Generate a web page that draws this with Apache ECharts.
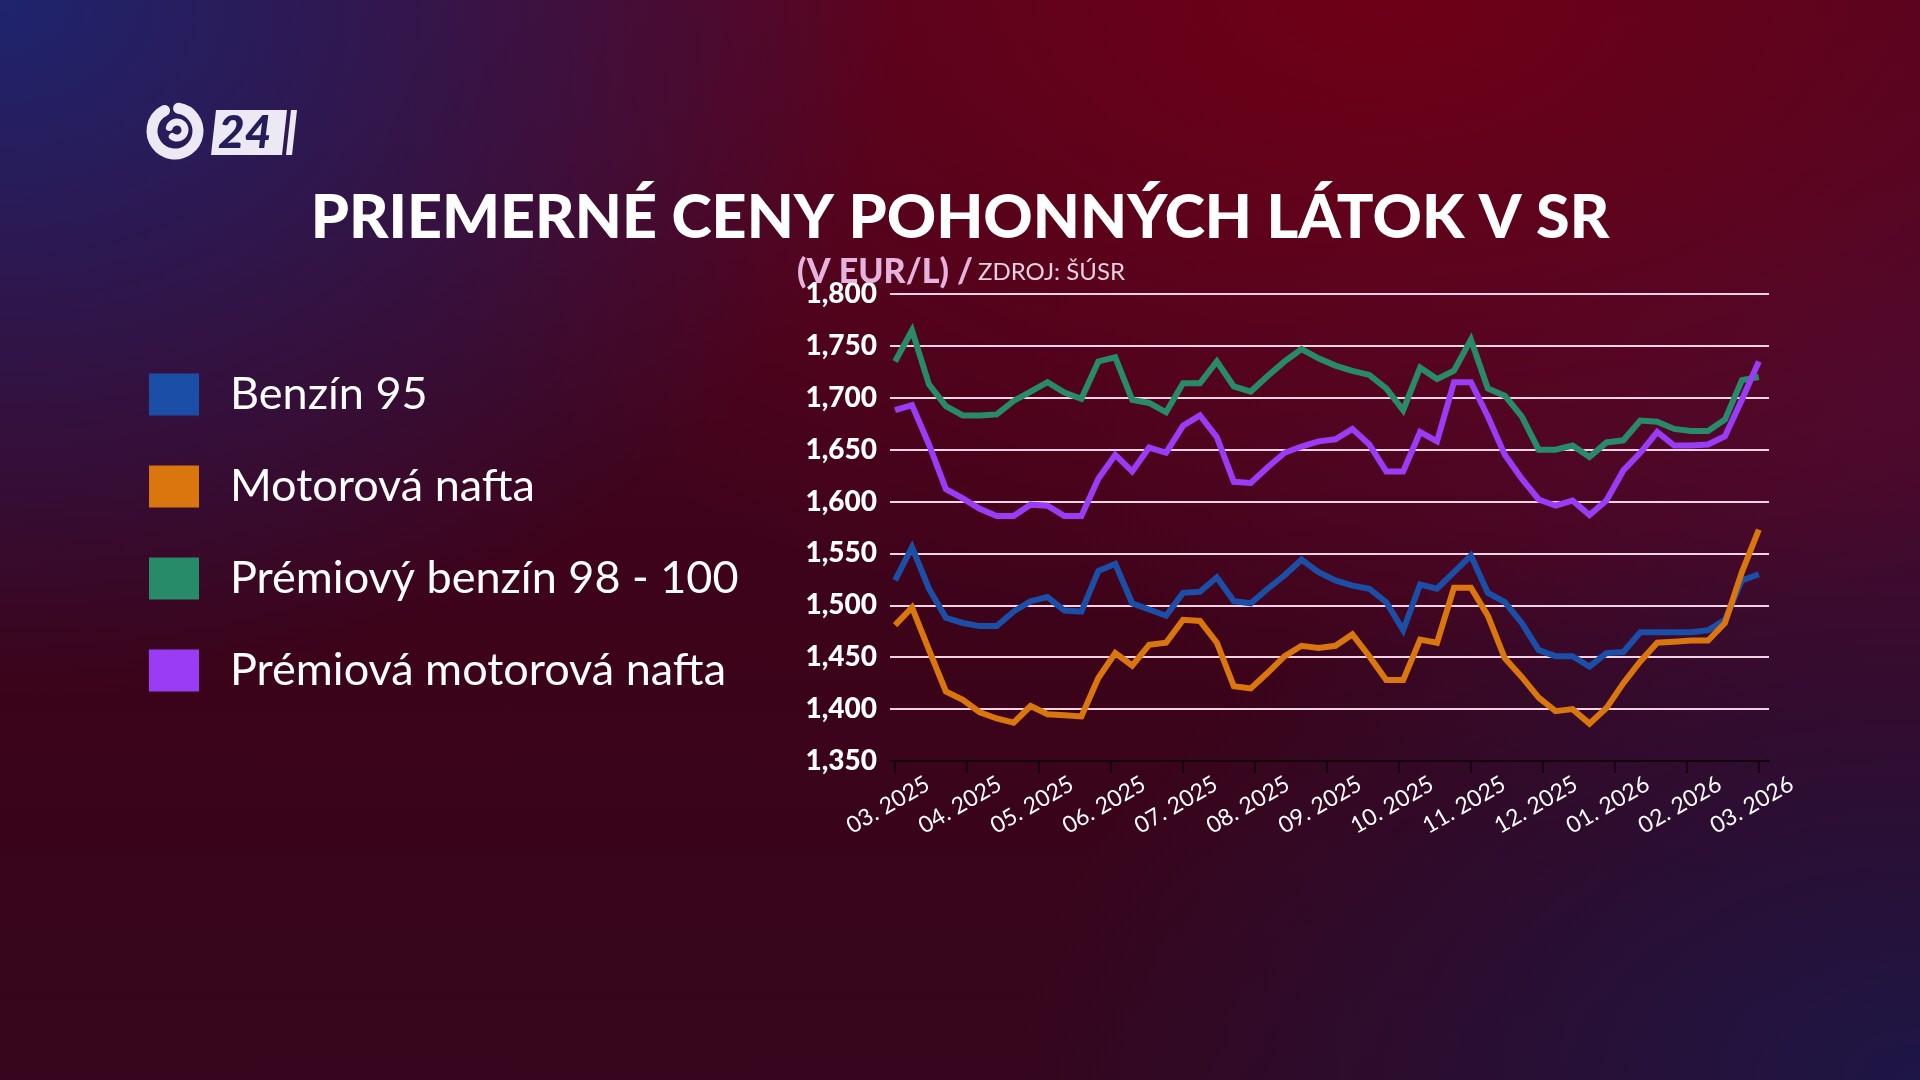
<!DOCTYPE html>
<html>
<head>
<meta charset="utf-8">
<script src="https://cdn.jsdelivr.net/npm/echarts@6/dist/echarts.min.js"></script>
<style>
html,body{margin:0;padding:0;width:1920px;height:1080px;overflow:hidden;}
body{
  background:
    radial-gradient(ellipse 900px 700px at 0% 0%, rgba(30,36,110,1) 0%, rgba(30,36,110,0) 100%),
    radial-gradient(ellipse 1100px 650px at 72% 0%, rgba(110,0,22,1) 0%, rgba(110,0,22,0) 100%),
    radial-gradient(ellipse 900px 600px at 100% 100%, rgba(30,22,70,1) 0%, rgba(30,22,70,0) 100%),
    radial-gradient(ellipse 900px 500px at 100% 35%, rgba(70,12,52,1) 0%, rgba(70,12,52,0) 100%),
    linear-gradient(180deg, #4a0524 0%, #3c0319 60%, #35061d 100%);
}
#chart{width:1920px;height:1080px;}
</style>
</head>
<body>
<div id="chart"></div>
<script>
const monthLabels = ['03. 2025','04. 2025','05. 2025','06. 2025','07. 2025','08. 2025','09. 2025','10. 2025','11. 2025','12. 2025','01. 2026','02. 2026','03. 2026'];
const seriesNames = ['Benzín 95','Motorová nafta','Prémiový benzín 98 - 100','Prémiová motorová nafta'];
const benzin95 = [1.524,1.556,1.516,1.488,1.483,1.480,1.480,1.494,1.504,1.508,1.495,1.494,1.533,1.540,1.502,1.496,1.490,1.512,1.513,1.527,1.504,1.502,1.516,1.529,1.544,1.532,1.524,1.519,1.516,1.503,1.476,1.520,1.516,1.532,1.548,1.512,1.503,1.483,1.457,1.451,1.451,1.441,1.454,1.455,1.474,1.474,1.474,1.474,1.476,1.486,1.524,1.530];
const motorovaNafta = [1.481,1.498,1.457,1.417,1.409,1.397,1.391,1.387,1.403,1.395,1.394,1.393,1.430,1.454,1.442,1.462,1.464,1.486,1.485,1.464,1.422,1.420,1.435,1.451,1.461,1.459,1.461,1.472,1.451,1.428,1.428,1.467,1.464,1.517,1.517,1.490,1.449,1.431,1.411,1.398,1.400,1.386,1.401,1.425,1.446,1.464,1.465,1.466,1.466,1.483,1.532,1.573];
const premiovyBenzin = [1.735,1.765,1.713,1.692,1.683,1.683,1.684,1.697,1.706,1.715,1.705,1.699,1.735,1.739,1.698,1.695,1.686,1.714,1.714,1.735,1.711,1.706,1.721,1.735,1.747,1.738,1.731,1.726,1.722,1.709,1.688,1.729,1.718,1.726,1.756,1.709,1.702,1.682,1.650,1.650,1.654,1.643,1.657,1.659,1.678,1.677,1.670,1.668,1.668,1.679,1.717,1.720];
const premiovaNafta = [1.688,1.693,1.655,1.612,1.603,1.593,1.586,1.586,1.597,1.596,1.586,1.586,1.622,1.645,1.629,1.652,1.647,1.673,1.683,1.662,1.619,1.618,1.633,1.647,1.653,1.658,1.660,1.670,1.655,1.629,1.629,1.667,1.658,1.715,1.715,1.682,1.645,1.622,1.602,1.596,1.601,1.587,1.601,1.630,1.647,1.667,1.654,1.654,1.655,1.663,1.698,1.735];
const colors = ['#1b4ea6','#d9760e','#278a69','#9a3cf6'];

const allSeries = [benzin95, motorovaNafta, premiovyBenzin, premiovaNafta];
const lastIdx = benzin95.length - 1;
const step = lastIdx / (monthLabels.length - 1);
const tickVals = monthLabels.map((m, k) => k * step);

const chart = echarts.init(document.getElementById('chart'), null, {renderer: 'canvas'});
const font = 'Lato, "Noto Sans", sans-serif';

chart.setOption({
  backgroundColor: 'transparent',
  animation: false,
  title: [
    {
      text: 'PRIEMERNÉ CENY POHONNÝCH LÁTOK V SR',
      left: 'center', top: 183,
      textStyle: {color: '#ffffff', fontFamily: font, fontWeight: 900, fontSize: 61}
    },
    {
      text: '{a|(V EUR/L) /} {b|ZDROJ: ŠÚSR}',
      left: 792, top: 250,
      textStyle: {
        rich: {
          a: {color: '#e6b3dc', fontFamily: font, fontWeight: 900, fontSize: 34},
          b: {color: '#e8cfe2', fontFamily: font, fontWeight: 'normal', fontSize: 24}
        }
      }
    }
  ],
  legend: {
    orient: 'vertical',
    left: 144, top: 367,
    icon: 'rect',
    itemWidth: 50, itemHeight: 42,
    itemGap: 47,
    data: seriesNames,
    textStyle: {color: '#ffffff', fontFamily: font, fontSize: 45, padding: [0, 0, 0, 26]},
    selectedMode: false
  },
  grid: {left: 890, right: 151, top: 294, bottom: 319},
  xAxis: {
    type: 'value',
    min: -0.3, max: 51.6,
    axisLine: {show: true, lineStyle: {color: '#14000a', width: 2}},
    axisTick: {show: true, customValues: tickVals, length: 12, lineStyle: {color: '#14000a', width: 2}},
    splitLine: {show: false},
    axisLabel: {
      customValues: tickVals,
      rotate: 30,
      align: 'center',
      verticalAlign: 'middle',
      margin: 40,
      color: '#ffffff',
      fontFamily: font,
      fontSize: 23,
      padding: [0, 16, 0, 0],
      formatter: v => monthLabels[Math.round(v / step)]
    }
  },
  yAxis: {
    type: 'value',
    min: 1.35, max: 1.8, interval: 0.05,
    axisLine: {show: false},
    axisTick: {show: false},
    splitLine: {lineStyle: {color: '#f2d3e3', width: 2}},
    axisLabel: {
      color: '#ffffff', fontFamily: font, fontWeight: 900, fontSize: 28, margin: 13,
      formatter: v => v.toFixed(3).replace('.', ',')
    }
  },
  series: allSeries.map((arr, s) => ({
    name: seriesNames[s],
    type: 'line',
    data: arr.map((v, i) => [i, v]),
    showSymbol: false,
    symbol: 'none',
    lineStyle: {color: colors[s], width: 6, join: 'miter'},
    itemStyle: {color: colors[s]},
    z: 2 + s
  })),
  graphic: [
    {type: 'arc', shape: {cx: 175, cy: 131, r: 23, startAngle: -Math.PI * 0.45, endAngle: Math.PI * 1.35}, style: {stroke: '#ece8f4', lineWidth: 11, fill: null, lineCap: 'round'}},
    {type: 'arc', shape: {cx: 177, cy: 130, r: 8, startAngle: -Math.PI * 0.9, endAngle: Math.PI * 0.7}, style: {stroke: '#ece8f4', lineWidth: 7, fill: null, lineCap: 'round'}},
    {type: 'polygon', shape: {points: [[216, 110], [287, 110], [282, 155], [211, 155]]}, style: {fill: '#ece8f4'}},
    {type: 'polygon', shape: {points: [[291, 110], [297, 110], [292, 155], [286, 155]]}, style: {fill: '#ece8f4'}},
    {type: 'text', left: 218, top: 110, style: {text: '24', fill: '#241d5c', font: 'italic 900 46px Lato, sans-serif'}}
  ]
});
</script>
</body>
</html>
